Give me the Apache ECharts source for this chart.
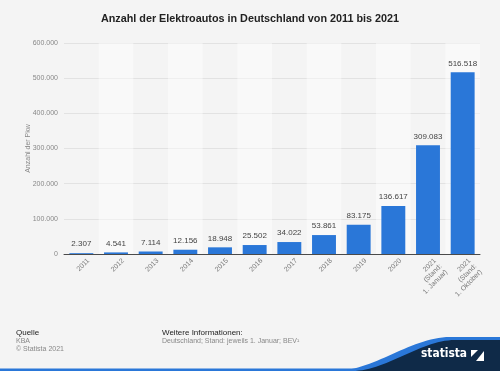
<!DOCTYPE html>
<html><head><meta charset="utf-8">
<script src="https://cdn.jsdelivr.net/npm/echarts@6/dist/echarts.min.js"></script>
<style>html,body{margin:0;padding:0;background:#f4f4f4;}#c{width:500px;height:371px;}</style>
</head><body><div id="c"></div>
<script>
var categories = ['2011','2012','2013','2014','2015','2016','2017','2018','2019','2020','2021\n(Stand:\n1. Januar)','2021\n(Stand:\n1. Oktober)'];
var values = [2307,4541,7114,12156,18948,25502,34022,53861,83175,136617,309083,516518];
var yTicks = [0,100000,200000,300000,400000,500000,600000];

function fmt(v){ return String(v).replace(/\B(?=(\d{3})+(?!\d))/g,'.'); }

// decorative footer wave (not data)
function wave(x0, yb, x1, yt, xEnd){
  var pts = [[x0, 371]];
  for (var i=0;i<=30;i++){
    var t=i/30, s=t*t*(3-2*t);
    pts.push([x0+(x1-x0)*t, yb-(yb-yt)*s]);
  }
  pts.push([xEnd, yt]); pts.push([xEnd, 371]);
  return pts;
}

var chart = echarts.init(document.getElementById('c'), null, {renderer:'canvas'});
var F = '"Liberation Sans", Arial, sans-serif';
chart.setOption({
  backgroundColor:'#f4f4f4',
  animation:false,
  title:{text:'Anzahl der Elektroautos in Deutschland von 2011 bis 2021', left:'center', top:9,
    textStyle:{fontFamily:F, fontSize:10.8, fontWeight:'bold', color:'#222'}},
  grid:{left:64, right:20, top:43, bottom:117},
  xAxis:{type:'category', data:categories,
    axisLine:{lineStyle:{color:'#4a4a4a', width:1}},
    axisTick:{show:false},
    splitArea:{show:true, areaStyle:{color:['rgba(255,255,255,0)','rgba(255,255,255,0.45)']}},
    axisLabel:{rotate:45, fontFamily:F, fontSize:7, color:'#777', margin:7, lineHeight:8, interval:0,
      verticalAlign:'top', padding:[0,-6,0,0]}},
  yAxis:{type:'value', min:yTicks[0], max:yTicks[yTicks.length-1], interval:100000,
    name:'Anzahl der Pkw', nameLocation:'middle', nameGap:32, nameMoveOverlap:false,
    nameTextStyle:{fontFamily:F, fontSize:7, color:'#888'},
    axisLine:{show:false}, axisTick:{show:false},
    splitLine:{lineStyle:{color:'#e2e2e2', width:1}},
    axisLabel:{fontFamily:F, fontSize:7, color:'#888', margin:6, formatter:function(v){return fmt(v);}}},
  series:[{type:'bar', data:values, barWidth:'69%',
    itemStyle:{color:'#2a77d8'},
    label:{show:true, position:'top', distance:5, fontFamily:F, fontSize:8, color:'#444',
      formatter:function(p){return fmt(p.value);}}}],
  graphic:{elements:[
    {type:'text', x:16, y:329, style:{text:'Quelle', font:'8px '+F, fill:'#222'}},
    {type:'text', x:16, y:338, style:{text:'KBA', font:'7px '+F, fill:'#888'}},
    {type:'text', x:16, y:346, style:{text:'© Statista 2021', font:'7px '+F, fill:'#888'}},
    {type:'text', x:162, y:329, style:{text:'Weitere Informationen:', font:'8px '+F, fill:'#222'}},
    {type:'text', x:162, y:338, style:{text:'Deutschland; Stand: jeweils 1. Januar; BEV¹', font:'7px '+F, fill:'#888'}},
    {type:'rect', shape:{x:0, y:368.5, width:500, height:2.5}, style:{fill:'#2a77d8'}, z:10},
    {type:'polygon', shape:{points:wave(335, 371, 450, 337, 500)}, style:{fill:'#2a77d8'}, z:10},
    {type:'polygon', shape:{points:wave(352, 371, 455, 340, 500)}, style:{fill:'#0f2a48'}, z:11},
    {type:'text', x:421, y:347, scaleX:0.82, style:{text:'statista', font:'bold 13px "DejaVu Sans", sans-serif', fill:'#ffffff'}, z:12},
    {type:'rect', shape:{x:471, y:350, width:13, height:11}, style:{fill:'#ffffff'}, z:12},
    {type:'polygon', shape:{points:[[471,357],[478,350],[484,350],[484,351],[476,361],[471,361]]}, style:{fill:'#0f2a48'}, z:13}
  ]}
});
</script></body></html>
